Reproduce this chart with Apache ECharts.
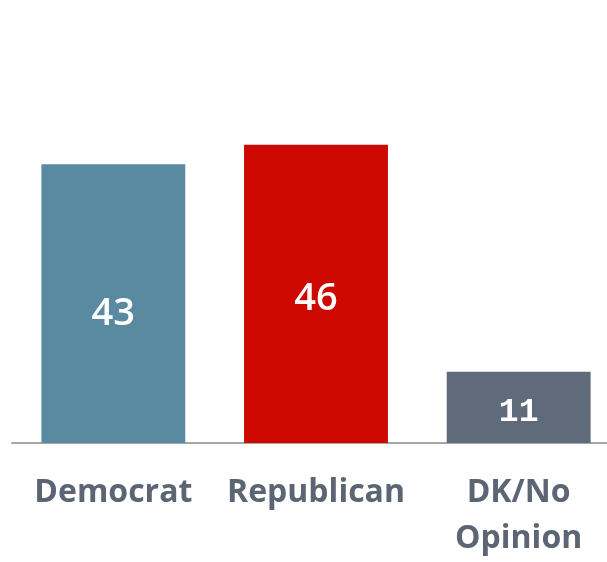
<!DOCTYPE html>
<html>
<head>
<meta charset="utf-8">
<script src="https://cdn.jsdelivr.net/npm/echarts@6/dist/echarts.min.js"></script>
<style>html,body{margin:0;padding:0;background:#fff;overflow:hidden;}#c{width:620px;height:562px;}</style>
</head>
<body>
<div id="c"></div>
<script>
const categories = ['Democrat', 'Republican', 'DK/No\nOpinion'];
const values = [43, 46, 11];
const colors = ['#5a8a9f', '#cc0800', '#5f6b7a'];

const chart = echarts.init(document.getElementById('c'));
const labelOffsets = [[0, 11], [0, 5], [0, 5]];
chart.setOption({
  animation: false,
  grid: { left: 12, right: 0, top: 54, bottom: 117, containLabel: false },
  xAxis: {
    type: 'category',
    data: categories,
    axisTick: { show: false },
    axisLine: { lineStyle: { color: '#a6a6a6', width: 2 } },
    axisLabel: {
      color: '#5b6573', fontSize: 32, fontWeight: 'bold', fontFamily: 'Open Sans',
      margin: 27, lineHeight: 46, interval: 0
    }
  },
  yAxis: { type: 'value', min: 0, max: 60, show: false, splitLine: { show: false } },
  series: [{
    type: 'bar',
    barWidth: '71%',
    data: values.map((v, i) => ({
      value: v,
      itemStyle: { color: colors[i] },
      label: i === 2
        ? { show: true, position: 'inside', color: '#fff', fontFamily: 'Liberation Mono', fontWeight: 'bold', fontSize: 33, offset: labelOffsets[i] }
        : { show: true, position: 'inside', color: '#fff', fontFamily: 'Open Sans', fontWeight: 600, fontSize: 38, offset: labelOffsets[i] }
    }))
  }]
});
</script>
</body>
</html>
